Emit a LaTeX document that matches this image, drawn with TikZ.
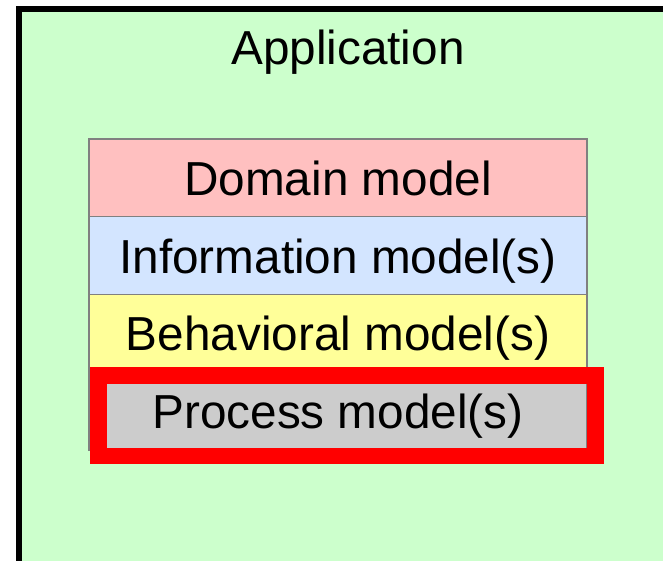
\documentclass[tikz,border=0pt]{standalone}
\usepackage{fontspec}
\setmainfont{Liberation Sans}
\usetikzlibrary{positioning}

\definecolor{appgreen}{HTML}{CCFFCC}
\definecolor{domainred}{HTML}{FFC0C0}
\definecolor{infoblue}{HTML}{D3E5FF}
\definecolor{behavyellow}{HTML}{FFFF99}
\definecolor{procgray}{HTML}{CCCCCC}
\definecolor{edgegray}{HTML}{808080}

\tikzset{
	bigtext/.style={font=\fontsize{47.7}{50}\selectfont, text height=35pt, text depth=0pt},
	layer/.style={bigtext, draw=edgegray, line width=1.5pt, minimum width=498pt,
		minimum height=77.75pt, inner sep=0pt, outer sep=0pt},
}

\begin{document}
\begin{tikzpicture}[x=1pt,y=-1pt]
	\useasboundingbox (0,0) rectangle (663,561);
	\clip (0,0) rectangle (663,561);

	% application frame
	\draw[line width=6pt, fill=appgreen] (19,9) rectangle (720,620);
	\node[bigtext] (app) at (348,47.5) {Application};

	% layers
	\node[layer, fill=domainred, anchor=north west] (domain) at (89,139) {Domain model};
	\node[layer, fill=infoblue, below=0pt of domain] (info) {Information model(s)};
	\node[layer, fill=behavyellow, below=0pt of info] (behav) {Behavioral model(s)};
	\node[layer, fill=procgray, below=0pt of behav] (proc) {Process model(s)};

	% highlight
	\draw[red, line width=16.5pt] ([shift={(9.5,3)}]proc.north west) rectangle ([shift={(8.5,6)}]proc.south east);
\end{tikzpicture}
\end{document}
